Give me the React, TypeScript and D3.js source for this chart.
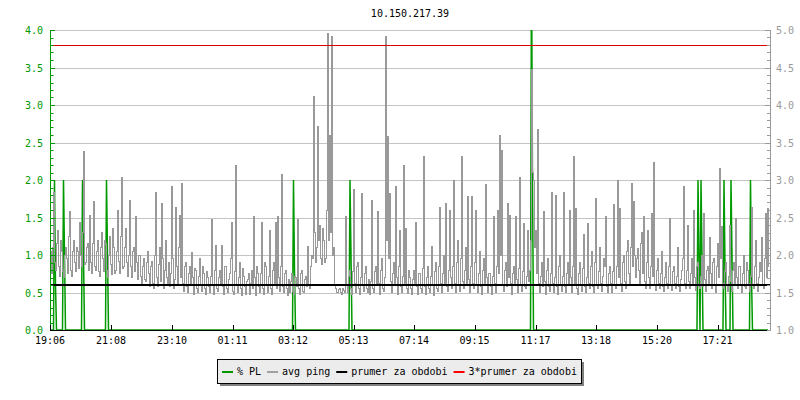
import React, { useEffect } from "react";
import * as d3 from "d3";

// ---- data ----
const title = "10.150.217.39";
const totalMinutes = 1440; // 24h window starting 19:06
const pingStepMin = 2;
// average ping (ms, right axis), samples at even minutes-of-4 (0,4,8,...)
const pingValuesA = [
  1.95,1.75,2.84,1.80,2.33,1.72,2.05,1.70,2.10,1.76,2.58,1.72,2.20,1.78,2.05,2.44,1.85,3.38,1.90,2.15,
  2.53,1.75,2.71,1.80,2.20,1.72,2.30,1.78,2.15,1.70,2.25,1.74,2.10,1.80,2.60,1.76,3.04,1.85,2.35,1.72,
  2.73,1.70,2.10,2.51,1.68,2.00,1.62,1.95,1.65,2.05,1.58,1.92,1.55,2.84,1.58,2.10,2.69,1.56,2.20,1.60,
  1.58,2.91,1.55,2.64,1.60,2.53,2.96,1.52,1.90,1.50,1.85,2.03,1.48,1.80,1.50,1.95,1.52,1.76,1.48,1.70,
  1.50,2.47,1.48,2.13,1.52,1.80,2.13,1.47,1.85,1.50,1.75,2.44,1.48,3.20,1.50,1.90,1.46,1.72,1.48,1.68,
  1.48,1.80,2.51,1.46,1.75,1.50,2.43,1.47,1.85,1.50,2.33,1.48,1.90,2.44,2.51,1.52,3.07,1.50,1.80,1.46,
  1.50,1.75,1.47,1.70,2.47,1.48,1.80,1.50,1.72,2.11,1.55,2.00,4.11,1.90,3.71,2.40,1.88,2.20,1.95,4.96,
  3.60,4.92,2.10,1.55,1.50,1.56,1.48,1.53,2.51,1.50,1.80,1.47,2.87,1.50,1.90,1.48,2.82,1.52,1.85,1.50,
  1.48,2.73,1.50,1.85,2.58,1.47,1.95,1.52,4.91,3.58,2.82,1.50,1.90,2.91,1.48,2.33,1.50,3.19,2.36,1.49,
  1.70,1.48,1.80,2.44,1.47,1.75,1.50,3.31,1.48,1.85,1.50,2.11,1.46,1.90,1.52,2.63,1.50,2.00,2.69,1.52,
  2.60,1.55,2.99,1.50,2.20,1.52,3.32,1.55,2.10,2.78,1.50,2.78,1.55,2.60,1.50,2.05,1.48,1.95,2.94,1.50,
  1.75,1.48,2.51,1.50,2.60,3.59,3.40,1.52,1.90,2.69,2.53,1.48,1.85,2.51,1.50,3.03,1.52,2.42,1.55,2.33,
  1.80,4.47,3.00,2.33,3.68,1.50,1.90,2.58,1.48,1.95,1.52,2.84,1.50,2.80,1.48,2.00,1.52,2.84,1.50,1.90,
  2.60,1.50,3.31,2.62,1.48,1.90,1.52,2.27,1.50,2.42,1.55,2.05,1.50,2.76,1.55,2.10,1.52,1.95,2.51,1.50,
  1.85,1.50,2.67,1.55,2.99,2.62,1.52,2.00,1.55,2.20,1.60,2.95,2.71,1.70,2.09,1.60,2.30,2.51,1.55,2.33,
  1.55,2.56,3.24,1.53,1.95,1.55,2.05,1.52,1.90,1.55,2.49,1.53,1.85,1.56,2.10,1.52,1.80,2.92,1.55,2.40,
  1.55,1.95,2.60,1.53,1.90,1.55,2.00,2.56,1.52,1.85,2.24,1.55,1.95,1.50,2.16,3.15,2.38,1.55,1.90,1.52,
  2.40,1.52,1.90,2.49,1.55,1.85,1.50,2.00,1.55,1.80,1.52,2.63,1.55,2.20,1.52,1.90,2.24,1.55,2.56,2.62,
];
// average ping (ms), samples in between (2,6,10,... minutes)
const pingValuesB = [
  2.05,2.10,1.90,2.15,1.85,2.20,1.78,2.00,1.95,2.25,1.80,2.05,1.90,2.10,1.82,2.00,2.30,1.88,2.10,1.80,
  1.90,2.15,1.85,2.05,1.78,2.10,1.95,2.20,1.80,2.00,1.88,2.35,1.76,2.05,1.92,2.25,1.82,2.10,1.90,2.00,
  1.85,2.05,1.78,1.90,2.00,1.72,1.85,1.68,1.90,1.75,1.85,1.62,2.00,1.70,1.88,1.65,1.95,1.80,1.70,1.90,
  1.75,1.95,1.68,1.85,2.10,1.70,1.62,1.85,1.58,1.75,1.60,1.70,1.82,1.55,1.72,1.60,1.85,1.55,1.78,1.58,
  1.72,1.60,1.80,1.55,1.70,1.62,1.58,1.85,1.55,1.68,1.95,1.52,1.78,1.60,1.70,1.55,1.82,1.58,1.65,1.75,
  1.62,1.55,1.70,1.85,1.58,1.75,1.55,1.90,1.60,1.72,1.55,1.80,1.62,1.55,1.70,1.85,1.58,1.75,1.55,1.68,
  1.65,1.52,1.72,1.58,1.55,1.75,1.52,1.68,1.58,1.60,1.85,1.95,2.30,2.10,2.20,1.95,2.35,1.90,2.60,2.20,
  2.30,2.00,1.60,1.50,1.54,1.50,1.55,1.50,1.60,1.72,1.55,1.78,1.62,1.85,1.55,1.70,1.60,1.75,1.55,1.68,
  1.65,1.55,1.78,1.60,1.62,1.80,1.55,1.70,2.20,1.95,1.65,1.75,1.60,1.70,1.85,1.58,1.72,1.60,1.55,1.80,
  1.55,1.68,1.60,1.58,1.75,1.55,1.82,1.58,1.70,1.55,1.72,1.60,1.78,1.55,1.85,1.62,1.75,1.60,1.58,1.80,
  1.70,1.85,1.62,1.90,1.60,1.95,1.65,1.80,1.60,1.68,1.85,1.62,1.90,1.60,1.75,1.58,1.80,1.62,1.70,1.75,
  1.58,1.72,1.62,1.85,1.75,2.00,1.60,1.80,1.58,1.70,1.62,1.75,1.60,1.68,1.82,1.60,1.78,1.58,1.72,1.65,
  2.20,3.10,2.10,1.75,1.62,1.72,1.58,1.65,1.80,1.58,1.75,1.62,1.70,1.58,1.85,1.60,1.72,1.58,1.75,1.62,
  1.70,1.85,1.62,1.55,1.75,1.60,1.82,1.58,1.70,1.62,1.85,1.58,1.90,1.60,1.78,1.62,1.72,1.85,1.58,1.75,
  1.62,1.78,1.60,1.85,1.70,1.62,1.90,1.65,2.05,1.75,2.10,1.85,2.00,1.95,1.80,2.15,1.75,1.65,1.90,1.70,
  1.85,1.72,1.60,1.80,1.62,1.75,1.58,1.70,1.62,1.85,1.60,1.78,1.62,1.72,1.58,1.68,1.95,1.62,1.80,1.65,
  1.75,1.62,1.70,1.85,1.60,1.72,1.58,1.68,1.80,1.62,1.75,1.90,1.60,1.85,1.70,1.95,1.62,1.78,1.60,1.72,
  1.65,1.80,1.62,1.70,1.85,1.60,1.75,1.58,1.90,1.62,1.72,1.60,1.85,1.62,1.70,1.78,1.60,1.95,1.70,1.85,
];
// packet loss events (% PL), otherwise 0
const plTimes = [9, 27, 65, 113, 487, 600, 963, 1296, 1302, 1348, 1362, 1401];
const plPeak = [2, 2, 2, 2, 2, 2, 5, 2, 2, 2, 2, 2];
const plTail = [0.6, 1, 1, 1, 0.8, 1, 2, 1, 1, 0.85, 1, 0.7];
const avgPing = 1.6; // "prumer za obdobi"
const tickMinutes = [0, 122, 244, 365, 486, 607, 728, 849, 971, 1092, 1214, 1335];
const tickLabels = ["19:06", "21:08", "23:10", "01:11", "03:12", "05:13", "07:14", "09:15", "11:17", "13:18", "15:20", "17:21"];
const leftTicks = [0, 0.5, 1, 1.5, 2, 2.5, 3, 3.5, 4];
const rightTicks = [1, 1.5, 2, 2.5, 3, 3.5, 4, 4.5, 5];
const legendItems = [
  { label: "% PL", color: "#009900" },
  { label: "avg ping", color: "#a0a0a0" },
  { label: "prumer za obdobi", color: "#000000" },
  { label: "3*prumer za obdobi", color: "#ff0000" },
];

// ---- layout ----
const W = 800, H = 400;
const L = 50, R = 770, T = 30, B = 330;
const FONT = "'DejaVu Sans Mono', monospace";
const GREEN = "#009900";
const GRAY = "#999999";

export default function App() {
  useEffect(() => {
    document.body.style.margin = "0";
  }, []);

  const x = d3.scaleLinear().domain([0, totalMinutes]).range([L, R]);
  const yL = d3.scaleLinear().domain([0, 4]).range([B, T]);
  const yR = d3.scaleLinear().domain([1, 5]).range([B, T]);

  const pingSeries: number[] = d3.merge(pingValuesA.map((a, i) => [a, pingValuesB[i]]));

  const pingLine = d3
    .line<number>()
    .x((_, i) => x(i * pingStepMin))
    .y((d) => yR(d))
    .curve(d3.curveStep);

  const plPts: [number, number][] = [[0, 0]];
  plTimes.forEach((t, i) => {
    plPts.push([t - 2, 0], [t, plPeak[i]], [t + 2, plTail[i]], [t + 4, 0]);
  });
  plPts.push([totalMinutes - 4, 0]);
  const plLine = d3
    .line<[number, number]>()
    .x((d) => x(d[0]))
    .y((d) => yL(d[1]));

  const minorL = d3.range(0, 41).map((i) => i / 10);
  const minorR = d3.range(10, 51).map((i) => i / 10);

  // legend layout
  const legX = 217, legY = 359, legW = 364, legH = 24;
  let cx = 222;
  const legPos = legendItems.map((it) => {
    const p = { sx: cx, tx: cx + 15 };
    cx = cx + 15 + it.label.length * 6.02 + 6;
    return p;
  });

  return (
    <svg width={W} height={H} style={{ position: "absolute", left: 0, top: 0, background: "#fff" }} fontFamily={FONT} fontSize={10}>
      <defs>
        <clipPath id="plot">
          <rect x={L} y={T} width={R - L} height={B - T} />
        </clipPath>
      </defs>
      <rect x={0} y={0} width={W} height={H} fill="#fff" />
      <text x={(L + R) / 2} y={17} textAnchor="middle" fill="#000">{title}</text>

      {/* gridlines */}
      {leftTicks.filter((v) => v > 0).map((v) => (
        <line key={"g" + v} x1={L} x2={R} y1={Math.round(yL(v)) + 0.5} y2={Math.round(yL(v)) + 0.5} stroke="#c4c4c4" strokeWidth={1} />
      ))}

      <g clipPath="url(#plot)">
        <path d={plLine(plPts) || ""} fill="none" stroke={GREEN} strokeWidth={1.5} />
        <path d={pingLine(pingSeries) || ""} fill="none" stroke={GRAY} strokeWidth={1} shapeRendering="crispEdges" />
        <line x1={L} x2={R} y1={yR(avgPing)} y2={yR(avgPing)} stroke="#000" strokeWidth={2} />
        <line x1={L} x2={R} y1={Math.round(yR(3 * avgPing)) + 0.5} y2={Math.round(yR(3 * avgPing)) + 0.5} stroke="#dd0000" strokeWidth={1} />
      </g>

      {/* left axis */}
      <line x1={L + 0.5} x2={L + 0.5} y1={T} y2={B} stroke={GREEN} />
      {minorL.map((v, i) => (
        <line key={"ml" + i} x1={L} x2={L + (i % 5 === 0 ? 5 : 3.5)} y1={Math.round(yL(v)) + 0.5} y2={Math.round(yL(v)) + 0.5} stroke={GREEN} />
      ))}
      {leftTicks.map((v) => (
        <text key={"tl" + v} x={43} y={yL(v) + 4} textAnchor="end" fill={GREEN}>{v.toFixed(1)}</text>
      ))}

      {/* right axis */}
      <line x1={R + 0.5} x2={R + 0.5} y1={T} y2={B} stroke={GRAY} />
      {minorR.map((v, i) => (
        <line key={"mr" + i} x1={R - (i % 5 === 0 ? 5 : 3)} x2={R + 1} y1={Math.round(yR(v)) + 0.5} y2={Math.round(yR(v)) + 0.5} stroke={GRAY} />
      ))}
      {rightTicks.map((v) => (
        <text key={"tr" + v} x={776} y={yR(v) + 4} textAnchor="start" fill={GRAY}>{v.toFixed(1)}</text>
      ))}

      {/* bottom axis */}
      <line x1={L} x2={R - 3} y1={B + 0.5} y2={B + 0.5} stroke="#000" />
      {tickMinutes.map((m, i) => (
        <g key={"bt" + i}>
          <line x1={Math.round(x(m)) + 0.5} x2={Math.round(x(m)) + 0.5} y1={B - 5} y2={B} stroke="#000" />
          <text x={x(m)} y={344} textAnchor="middle" fill="#000">{tickLabels[i]}</text>
        </g>
      ))}

      {/* legend */}
      <rect x={legX + 3} y={legY + 3} width={legW} height={legH} fill="#808080" />
      <rect x={legX + 0.5} y={legY + 0.5} width={legW} height={legH} fill="#ececec" stroke="#000" />
      {legendItems.map((it, i) => (
        <g key={"lg" + i}>
          <line x1={legPos[i].sx} x2={legPos[i].sx + 11} y1={372} y2={372} stroke={it.color} strokeWidth={2} />
          <text x={legPos[i].tx} y={375} fill="#000">{it.label}</text>
        </g>
      ))}
    </svg>
  );
}
